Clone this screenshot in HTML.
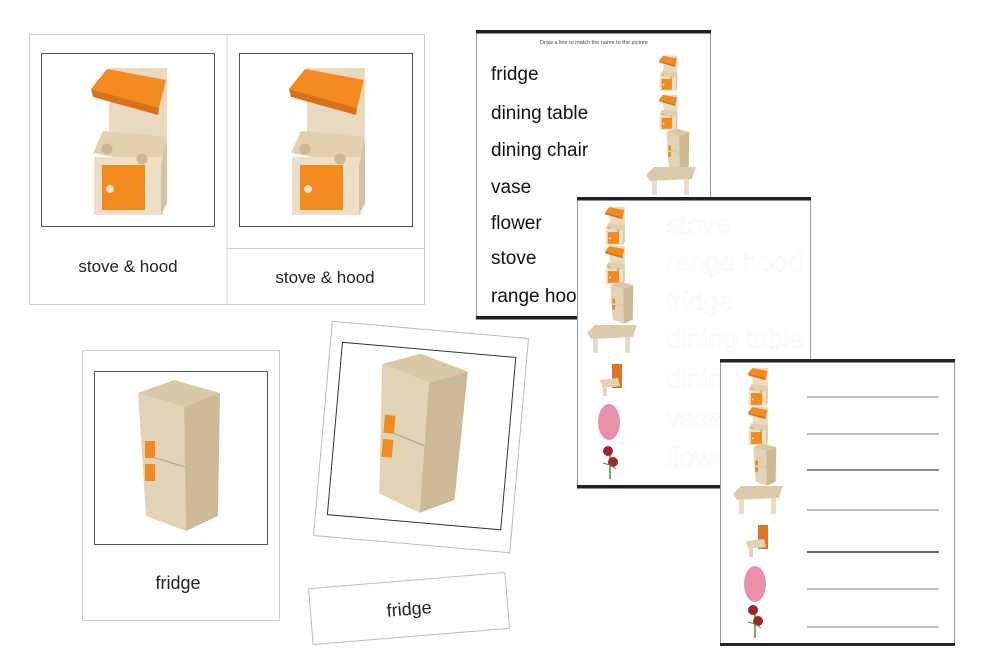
<!DOCTYPE html>
<html><head><meta charset="utf-8"><style>
html,body{margin:0;padding:0;background:#fff;}
svg{display:block;}
text{font-family:"Liberation Sans","DejaVu Sans",sans-serif;}
</style></head><body>
<svg width="1000" height="667" viewBox="0 0 1000 667" xmlns="http://www.w3.org/2000/svg">
<defs>
<g id="stove">
 <rect x="68" y="15" width="58" height="70" fill="#e9d9bf"/>
 <polygon points="50,36 66,16 125,27 118,55" fill="#f28a1e"/>
 <polygon points="50,36 118,55 117,62 52,44" fill="#d9701a"/>
 <polygon points="52,100 62,78 126,84 122,113" fill="#e3cfae"/>
 <rect x="53" y="104" width="69" height="58" fill="#ecdfc6"/>
 <polygon points="120,113 126,86 126,150 120,162" fill="#d6c3a3"/>
 <rect x="61" y="112" width="43" height="45" fill="#f28a1e"/>
 <circle cx="66" cy="96" r="5.5" fill="#cdb690"/>
 <circle cx="101" cy="106" r="5.5" fill="#cdb690"/>
 <circle cx="69" cy="136" r="4" fill="#f1e4cc"/>
</g>
<g id="fridge">
 <polygon points="44,22 80,9 126,22 90,36" fill="#d9c7a6"/>
 <polygon points="44,22 90,36 92,160 52,145" fill="#e3d3b6"/>
 <polygon points="90,36 126,22 124,145 92,160" fill="#cdb996"/>
 <line x1="52" y1="84" x2="91" y2="96" stroke="#b9a37f" stroke-width="1"/>
 <rect x="51" y="70" width="10" height="17" fill="#f28a1e"/>
 <rect x="51" y="93" width="10" height="17" fill="#f28a1e"/>
</g>
<g id="table">
 <polygon points="2,8 10,0 52,0 48,12 6,14" fill="#dccbaa"/>
 <rect x="8" y="14" width="5" height="14" fill="#e8dcc4"/>
 <rect x="40" y="12" width="5" height="16" fill="#e8dcc4"/>
</g>
<g id="chair">
 <rect x="14" y="0" width="10" height="24" fill="#d9762a"/>
 <polygon points="2,16 20,14 22,22 4,24" fill="#e3d3b6"/>
 <rect x="5" y="24" width="4" height="8" fill="#e3d3b6"/>
</g>
<g id="vase"><ellipse cx="12" cy="19" rx="11" ry="18" fill="#e990ab"/></g>
<g id="flower">
 <line x1="10" y1="6" x2="10" y2="34" stroke="#5b8a3a" stroke-width="1.5"/>
 <circle cx="8" cy="6" r="5" fill="#a3232a"/><circle cx="13" cy="17" r="5" fill="#a3232a"/>
 <path d="M3 18 L10 20 L16 24" stroke="#5b8a3a" fill="none"/>
</g>
</defs>

<rect x="29.5" y="34.5" width="395" height="270" fill="#fff" stroke="#ccc"/>
<line x1="227" y1="34" x2="227" y2="304" stroke="#ccc"/>
<line x1="227" y1="248.5" x2="424" y2="248.5" stroke="#ccc"/>
<rect x="41.5" y="53.5" width="173" height="173" fill="#fff" stroke="#555"/>
<rect x="239.5" y="53.5" width="173" height="173" fill="#fff" stroke="#555"/>
<use href="#stove" x="41" y="53"/>
<use href="#stove" x="239" y="53"/>
<text x="128" y="272" font-size="17" text-anchor="middle" fill="#222">stove &amp; hood</text>
<text x="325" y="283" font-size="17" text-anchor="middle" fill="#222">stove &amp; hood</text>

<rect x="82.5" y="350.5" width="197" height="270" fill="#fff" stroke="#ccc"/>
<rect x="94.5" y="371.5" width="173" height="173" fill="#fff" stroke="#555"/>
<use href="#fridge" x="94" y="371"/>
<text x="178" y="589" font-size="18" text-anchor="middle" fill="#222">fridge</text>

<g transform="rotate(5 421 437)">
 <rect x="322.5" y="329.5" width="197" height="215" fill="#fff" stroke="#bbb"/>
 <rect x="334.5" y="349.5" width="174" height="173" fill="#fff" stroke="#333"/>
 <use href="#fridge" x="334" y="349" transform="translate(421 437) scale(1.05) translate(-421 -437)"/>
</g>
<g transform="rotate(-4.7 409 608)">
 <rect x="310.5" y="580.5" width="197" height="56" fill="#fff" stroke="#bbb"/>
 <text x="409" y="615" font-size="18" text-anchor="middle" fill="#222">fridge</text>
</g>

<rect x="476.5" y="31.5" width="234" height="287" fill="#fff" stroke="#999"/>
<rect x="476" y="30" width="235" height="3.5" fill="#222"/>
<rect x="476" y="316" width="235" height="3.5" fill="#222"/>
<text x="594" y="44" font-size="5.5" text-anchor="middle" fill="#444">Draw a line to match the name to the picture</text>
<g font-size="19" fill="#111">
<text x="491" y="80">fridge</text>
<text x="491" y="119">dining table</text>
<text x="491" y="156">dining chair</text>
<text x="491" y="193">vase</text>
<text x="491" y="229">flower</text>
<text x="491" y="264">stove</text>
<text x="491" y="302">range hood</text>
</g>
<use href="#stove" transform="translate(647 52) scale(0.24)"/>
<use href="#stove" transform="translate(647 91) scale(0.24)"/>
<use href="#fridge" transform="translate(654 126) scale(0.28)"/>
<use href="#table" transform="translate(644 167)"/>

<rect x="577.5" y="198.5" width="233" height="288" fill="#fff" stroke="#999"/>
<rect x="577" y="197" width="234" height="3.5" fill="#222"/>
<rect x="577" y="485" width="234" height="3.5" fill="#222"/>
<g font-size="27" fill="none" stroke="#ededed" stroke-width="0.8" stroke-dasharray="1.5 1.5">
<text x="666" y="233">stove</text>
<text x="666" y="271">range hood</text>
<text x="666" y="310">fridge</text>
<text x="666" y="348">dining table</text>
<text x="666" y="388">dining chair</text>
<text x="666" y="427">vase</text>
<text x="666" y="466">flower</text>
</g>
<use href="#stove" transform="translate(592 203) scale(0.26)"/>
<use href="#stove" transform="translate(592 242) scale(0.26)"/>
<use href="#fridge" transform="translate(598 279) scale(0.28)"/>
<use href="#table" transform="translate(585 325)"/>
<use href="#chair" transform="translate(598 364)"/>
<use href="#vase" transform="translate(597 403)"/>
<use href="#flower" transform="translate(600 445)"/>

<rect x="720.5" y="360.5" width="234" height="284" fill="#fff" stroke="#999"/>
<rect x="720" y="359" width="235" height="3.5" fill="#222"/>
<rect x="720" y="643" width="235" height="3" fill="#222"/>
<use href="#stove" transform="translate(735 364) scale(0.26)"/>
<use href="#stove" transform="translate(735 403) scale(0.26)"/>
<use href="#fridge" transform="translate(741 441) scale(0.28)"/>
<use href="#table" transform="translate(731 486)"/>
<use href="#chair" transform="translate(744 525)"/>
<use href="#vase" transform="translate(743 565)"/>
<use href="#flower" transform="translate(745 604)"/>
<g stroke="#999" stroke-width="1.2">
<line x1="807" y1="397" x2="939" y2="397"/>
<line x1="807" y1="434" x2="939" y2="434"/>
<line x1="807" y1="470" x2="939" y2="470" stroke="#444"/>
<line x1="807" y1="510" x2="939" y2="510"/>
<line x1="807" y1="552" x2="939" y2="552" stroke="#111"/>
<line x1="807" y1="589" x2="939" y2="589"/>
<line x1="807" y1="627" x2="939" y2="627"/>
</g>
</svg>
</body></html>
